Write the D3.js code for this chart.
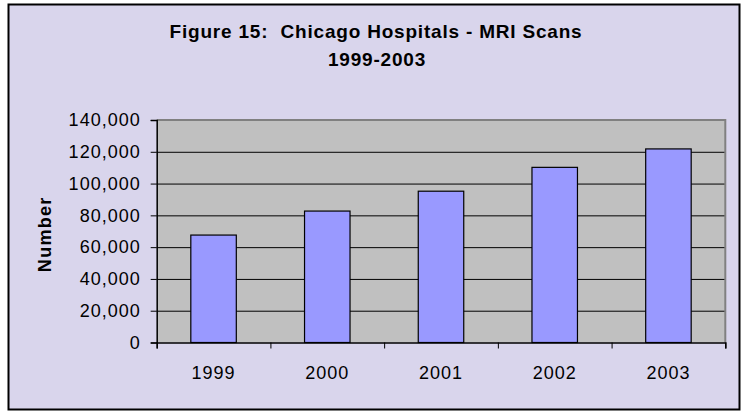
<!DOCTYPE html>
<html>
<head>
<meta charset="utf-8">
<script src="https://cdn.jsdelivr.net/npm/d3@7"></script>
<style>
  body { margin: 0; background: #fff; }
  svg { display: block; font-family: "Liberation Sans", Arial, sans-serif; }
</style>
</head>
<body>
<svg id="chart" width="743" height="413"></svg>
<script>
const years = ["1999", "2000", "2001", "2002", "2003"]
const scans = [67600, 82700, 95200, 110200, 121800]
const yTicks = [0, 20000, 40000, 60000, 80000, 100000, 120000, 140000]

const svg = d3.select('#chart')
const m = {left: 156.7, right: 725.3, top: 120, bottom: 342.5}

// outer frame
svg.append('rect')
  .attr('x', 8.5).attr('y', 4.5)
  .attr('width', 731).attr('height', 405)
  .attr('fill', '#d9d5ec')
  .attr('stroke', '#000')
  .attr('stroke-width', 2)

// title
const title = svg.append('text')
  .attr('text-anchor', 'middle')
  .attr('font-weight', 'bold')
  .attr('font-size', 19)
  .attr('letter-spacing', 0.8)
  .style('white-space', 'pre')
  .attr('fill', '#000')
title.append('tspan').attr('x', 376).attr('y', 38).text('Figure 15:  Chicago Hospitals - MRI Scans')
title.append('tspan').attr('x', 377).attr('y', 66).text('1999-2003')

const x = d3.scaleBand()
  .domain(years)
  .range([m.left, m.right])
  .paddingInner(0.6)
  .paddingOuter(0.3)

const xEdge = d3.scaleLinear()
  .domain([0, years.length])
  .range([m.left, m.right])

const y = d3.scaleLinear()
  .domain([0, 140000])
  .range([m.bottom, m.top])

// plot area
svg.append('rect')
  .attr('x', m.left).attr('y', m.top)
  .attr('width', m.right - m.left).attr('height', m.bottom - m.top)
  .attr('fill', '#c0c0c0')

// gridlines
svg.append('g')
  .attr('transform', `translate(${m.left},0)`)
  .call(d3.axisLeft(y).tickValues(yTicks.slice(1, -1)).tickSize(-(m.right - m.left)).tickFormat(''))
  .call(g => g.select('.domain').remove())
  .selectAll('line').attr('stroke', '#000').attr('stroke-width', 1)

// top and right border of plot
svg.append('path')
  .attr('d', `M${m.left},${m.top}H${m.right}V${m.bottom}`)
  .attr('fill', 'none')
  .attr('stroke', '#808080')
  .attr('stroke-width', 2)

// bars
svg.append('g')
  .selectAll('rect')
  .data(scans)
  .join('rect')
  .attr('x', (d, i) => x(years[i]))
  .attr('y', d => y(d))
  .attr('width', x.bandwidth())
  .attr('height', d => y(0) - y(d))
  .attr('fill', '#9999ff')
  .attr('stroke', '#000')
  .attr('stroke-width', 1.2)

// y axis
const yAxis = svg.append('g')
  .attr('transform', `translate(${m.left},0)`)
  .call(d3.axisLeft(y).tickValues(yTicks).tickSize(6).tickPadding(10).tickFormat(d3.format(',')))
yAxis.selectAll('text')
  .attr('font-size', 18)
  .attr('letter-spacing', 1)
  .attr('fill', '#000')
  .attr('font-family', '"Liberation Sans", Arial, sans-serif')
yAxis.selectAll('line').attr('stroke', '#000')
yAxis.select('.domain').attr('stroke', '#000').attr('stroke-width', 1.5)

// x axis: ticks at category edges
const xAxis = svg.append('g')
  .attr('transform', `translate(0,${m.bottom})`)
  .call(d3.axisBottom(xEdge).ticks(years.length).tickSize(6).tickFormat(''))
xAxis.selectAll('line').attr('stroke', '#000')
xAxis.select('.domain').attr('stroke', '#000').attr('stroke-width', 1.5)

// x labels
const xLab = svg.append('g')
  .attr('transform', `translate(0,${m.bottom})`)
  .call(d3.axisBottom(x).tickSize(0).tickPadding(24))
xLab.select('.domain').remove()
xLab.selectAll('text')
  .attr('font-size', 18)
  .attr('letter-spacing', 1)
  .attr('fill', '#000')
  .attr('font-family', '"Liberation Sans", Arial, sans-serif')

// y label
svg.append('text')
  .attr('transform', `translate(51,${(m.top + m.bottom) / 2 + 3}) rotate(-90)`)
  .attr('text-anchor', 'middle')
  .attr('font-weight', 'bold')
  .attr('font-size', 18)
  .attr('letter-spacing', 1.3)
  .attr('fill', '#000')
  .text('Number')
</script>
</body>
</html>
